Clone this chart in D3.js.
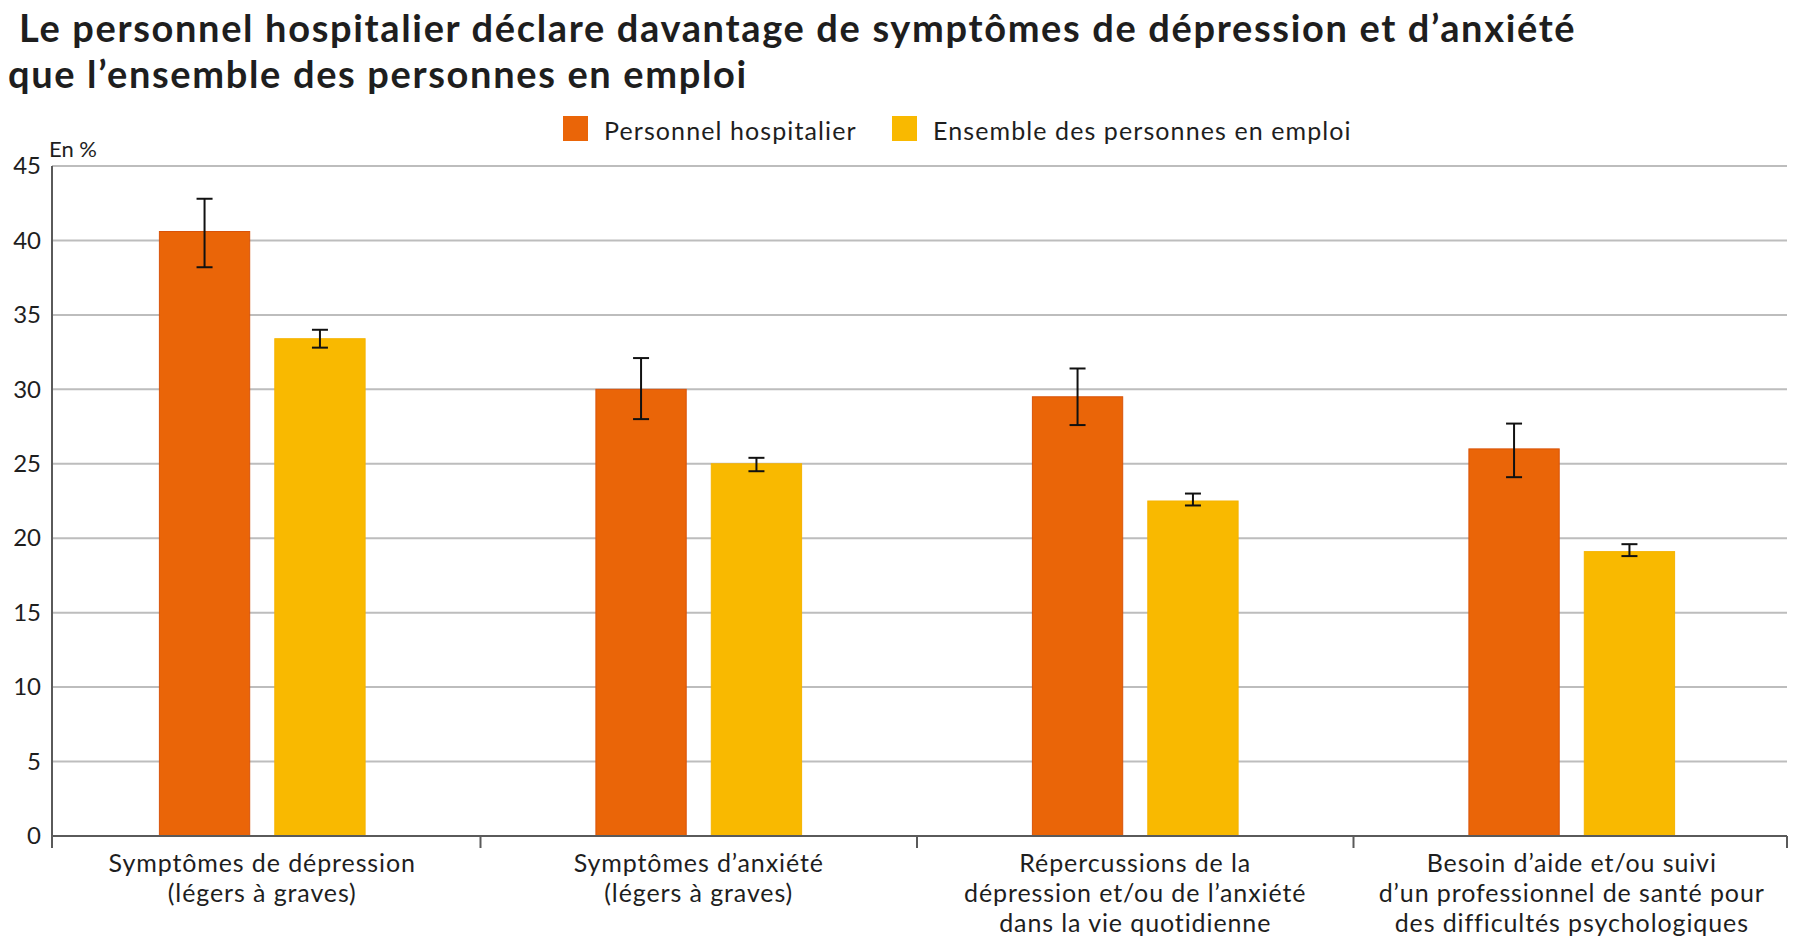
<!DOCTYPE html>
<html>
<head>
<meta charset="utf-8">
<script src="https://cdn.jsdelivr.net/npm/d3@7"></script>
<style>
   body { margin: 0; background: #fff; }
   text { font-family: Lato, "Open Sans", sans-serif; fill: #1e1e1e; }
</style>
</head>
<body>
<div id="chart"></div>
<script>
// data
const categories = ["depression", "anxiete", "repercussions", "besoin"];
const categoryLabels = [
   ["Symptômes de dépression", "(légers à graves)"],
   ["Symptômes d’anxiété", "(légers à graves)"],
   ["Répercussions de la", "dépression et/ou de l’anxiété", "dans la vie quotidienne"],
   ["Besoin d’aide et/ou suivi", "d’un professionnel de santé pour", "des difficultés psychologiques"]
];
const seriesNames = ["Personnel hospitalier", "Ensemble des personnes en emploi"];
const hospValues = [40.6, 30.0, 29.5, 26.0];
const hospLow = [38.2, 28.0, 27.6, 24.1];
const hospHigh = [42.8, 32.1, 31.4, 27.7];
const emploiValues = [33.4, 25.0, 22.5, 19.1];
const emploiLow = [32.8, 24.5, 22.2, 18.8];
const emploiHigh = [34.0, 25.4, 23.0, 19.6];
const yTicks = [0, 5, 10, 15, 20, 25, 30, 35, 40, 45];

const colors = ["#ea6508", "#f9b900"];
const strokes = ["#d9530a", "#f5b400"];

// sizes
const wide = 1793;
const high = 951;
const plotLeft = 52;
const plotRight = 1787;
const plotTop = 166;
const plotBottom = 836;

const rows = categories.map((c, i) => ({
   cat: c,
   values: [
      { s: 0, v: hospValues[i], lo: hospLow[i], hi: hospHigh[i] },
      { s: 1, v: emploiValues[i], lo: emploiLow[i], hi: emploiHigh[i] }
   ]
}));

const svg = d3
   .select("#chart")
   .append("svg")
   .attr("width", wide)
   .attr("height", high);

// scales
const y = d3.scaleLinear().domain([0, 45]).range([plotBottom, plotTop]);
const x0 = d3.scaleBand().domain(categories).range([44, 1790]);
const x1 = d3
   .scaleBand()
   .domain([0, 1])
   .range([0, x0.bandwidth()])
   .paddingInner(0.2174)
   .paddingOuter(1.0);

// title
svg.append("text")
   .attr("x", 19)
   .attr("y", 42)
   .attr("font-size", 38)
   .attr("font-weight", 700)
   .attr("letter-spacing", 1.65)
   .text("Le personnel hospitalier déclare davantage de symptômes de dépression et d’anxiété");
svg.append("text")
   .attr("x", 8)
   .attr("y", 88)
   .attr("font-size", 38)
   .attr("font-weight", 700)
   .attr("letter-spacing", 1.65)
   .text("que l’ensemble des personnes en emploi");

// legend
const legendX = [563, 892];
seriesNames.forEach((name, i) => {
   svg.append("rect")
      .attr("x", legendX[i])
      .attr("y", 116)
      .attr("width", 25)
      .attr("height", 25)
      .attr("fill", colors[i]);
   svg.append("text")
      .attr("x", legendX[i] + 41)
      .attr("y", 140)
      .attr("font-size", 25)
      .attr("letter-spacing", 1.1)
      .text(name);
});

svg.append("text")
   .attr("x", 49)
   .attr("y", 157)
   .attr("font-size", 22)
   .text("En %");

// grid + y axis
const yAxis = d3.axisLeft(y).tickValues(yTicks).tickSize(0).tickPadding(11);
const gy = svg.append("g")
   .attr("transform", `translate(${plotLeft},0)`)
   .call(yAxis);
gy.select(".domain").remove();
gy.selectAll("text")
   .attr("font-size", 24)
   .style("font-family", "Lato, sans-serif")
   .attr("fill", "#1e1e1e");

svg.append("g")
   .selectAll("line")
   .data(yTicks.filter((t) => t > 0))
   .enter()
   .append("line")
   .attr("x1", plotLeft)
   .attr("x2", plotRight)
   .attr("y1", (d) => y(d))
   .attr("y2", (d) => y(d))
   .attr("stroke", "#bdbdbd")
   .attr("stroke-width", 2);

svg.append("line")
   .attr("x1", plotLeft)
   .attr("x2", plotLeft)
   .attr("y1", plotTop)
   .attr("y2", plotBottom + 12)
   .attr("stroke", "#5a5a5a")
   .attr("stroke-width", 2);

// bars
const groups = svg.append("g")
   .selectAll("g")
   .data(rows)
   .enter()
   .append("g")
   .attr("transform", (d) => `translate(${x0(d.cat)},0)`);

groups.selectAll("rect")
   .data((d) => d.values)
   .enter()
   .append("rect")
   .attr("x", (d) => x1(d.s))
   .attr("y", (d) => y(d.v))
   .attr("width", x1.bandwidth())
   .attr("height", (d) => y(0) - y(d.v))
   .attr("fill", (d) => colors[d.s])
   .attr("stroke", (d) => strokes[d.s])
   .attr("stroke-width", 1);

// error bars
const cap = 8;
const err = groups.selectAll("g.err")
   .data((d) => d.values)
   .enter()
   .append("g")
   .attr("class", "err")
   .attr("stroke", "#111")
   .attr("stroke-width", 2);
err.append("line")
   .attr("x1", (d) => x1(d.s) + x1.bandwidth() / 2)
   .attr("x2", (d) => x1(d.s) + x1.bandwidth() / 2)
   .attr("y1", (d) => y(d.hi))
   .attr("y2", (d) => y(d.lo));
err.append("line")
   .attr("x1", (d) => x1(d.s) + x1.bandwidth() / 2 - cap)
   .attr("x2", (d) => x1(d.s) + x1.bandwidth() / 2 + cap)
   .attr("y1", (d) => y(d.hi))
   .attr("y2", (d) => y(d.hi));
err.append("line")
   .attr("x1", (d) => x1(d.s) + x1.bandwidth() / 2 - cap)
   .attr("x2", (d) => x1(d.s) + x1.bandwidth() / 2 + cap)
   .attr("y1", (d) => y(d.lo))
   .attr("y2", (d) => y(d.lo));

// x axis
svg.append("line")
   .attr("x1", plotLeft)
   .attr("x2", plotRight)
   .attr("y1", plotBottom)
   .attr("y2", plotBottom)
   .attr("stroke", "#5a5a5a")
   .attr("stroke-width", 2);

const tickX = categories.slice(1).map((c) => x0(c)).concat([plotRight]);
svg.append("g")
   .selectAll("line")
   .data(tickX)
   .enter()
   .append("line")
   .attr("x1", (d) => d)
   .attr("x2", (d) => d)
   .attr("y1", plotBottom)
   .attr("y2", plotBottom + 12)
   .attr("stroke", "#5a5a5a")
   .attr("stroke-width", 2);

// category labels, one text per line
const labels = svg.append("g")
   .selectAll("g")
   .data(rows)
   .enter()
   .append("g");

labels.selectAll("text")
   .data((d, i) => categoryLabels[i].map((t) => ({ cat: d.cat, t: t })))
   .enter()
   .append("text")
   .attr("text-anchor", "middle")
   .attr("font-size", 25)
   .attr("letter-spacing", 0.9)
   .attr("x", (d) => x0(d.cat) + x0.bandwidth() / 2)
   .attr("y", (d, i) => 872 + i * 30)
   .text((d) => d.t);
</script>
</body>
</html>
